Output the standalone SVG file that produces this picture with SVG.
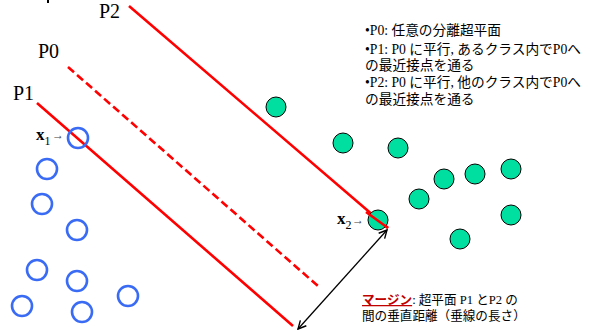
<svg xmlns="http://www.w3.org/2000/svg" width="590" height="331" viewBox="0 0 590 331">
<defs>
<style>
.hp{stroke:#ff0000;stroke-width:2.6;fill:none}
.blue{fill:none;stroke:#3a6bf5;stroke-width:2.6}
.green{fill:#00df9f;stroke:#000;stroke-width:1}
.lab{font-family:"Liberation Serif","Noto Sans CJK JP",serif;fill:#000}
.jp{font-family:"Liberation Serif","Noto Sans CJK JP",serif;font-size:13.7px;fill:#000}
.jb{font-family:"Liberation Serif","Noto Sans CJK JP",serif;font-size:12.6px;fill:#000}
.sm{font-family:"Liberation Serif",serif;font-size:12px;fill:#444}
</style>
<marker id="ah" viewBox="0 0 10 10" refX="9" refY="5" markerWidth="10" markerHeight="10" markerUnits="userSpaceOnUse" orient="auto-start-reverse">
<polyline points="1,1 9,5 1,9" fill="none" stroke="#000" stroke-width="1.4"/>
</marker>
</defs>
<rect width="590" height="331" fill="#fff"/>
<rect x="47" y="0" width="2" height="3" fill="#000"/>
<g id="connectors">
<line id="P2-line" class="hp" x1="129" y1="6" x2="388" y2="228"/>
<line id="P0-line" class="hp" x1="68" y1="67" x2="318" y2="286" stroke-dasharray="8,4"/>
<line id="P1-line" class="hp" x1="37" y1="103" x2="293" y2="326"/>
<line id="margin-arrow" x1="387" y1="230" x2="298" y2="329" stroke="#000" stroke-width="1.3" marker-start="url(#ah)" marker-end="url(#ah)"/>
</g>
<g id="labels-P">
<text class="lab" x="99" y="18" font-size="20">P2</text>
<text class="lab" x="38" y="58" font-size="20">P0</text>
<text class="lab" x="13" y="100" font-size="20">P1</text>
</g>
<g id="class-blue">
<circle class="blue" cx="78" cy="138" r="10"/>
<circle class="blue" cx="47" cy="169" r="10"/>
<circle class="blue" cx="42" cy="204" r="10"/>
<circle class="blue" cx="77" cy="230" r="10"/>
<circle class="blue" cx="37" cy="270" r="10"/>
<circle class="blue" cx="77" cy="281" r="10"/>
<circle class="blue" cx="22" cy="306" r="10"/>
<circle class="blue" cx="82" cy="312" r="10"/>
<circle class="blue" cx="128" cy="296" r="10"/>
</g>
<g id="class-green">
<circle class="green" cx="276" cy="107" r="10"/>
<circle class="green" cx="343" cy="143" r="10"/>
<circle class="green" cx="398" cy="148" r="10"/>
<circle class="green" cx="444" cy="179" r="10"/>
<circle class="green" cx="475" cy="174" r="10"/>
<circle class="green" cx="511" cy="169" r="10"/>
<circle class="green" cx="419" cy="199" r="10"/>
<circle class="green" cx="378" cy="220" r="10"/>
<circle class="green" cx="511" cy="215" r="10"/>
<circle class="green" cx="460" cy="239" r="10"/>
</g>
<line class="hp" x1="366" y1="212" x2="388" y2="228"/>
<g id="x1-label">
<text class="lab" x="36" y="140" font-size="17" font-weight="bold">x<tspan font-size="12" font-weight="normal" dy="5">1</tspan></text>
<text class="sm" x="52" y="139">→</text>
</g>
<g id="x2-label">
<text class="lab" x="337" y="224" font-size="17" font-weight="bold">x<tspan font-size="12" font-weight="normal" dy="5">2</tspan></text>
<text class="sm" x="352" y="224">→</text>
</g>
<g id="legend">
<text class="jp" x="365" y="35">•P0:  任意の分離超平面</text>
<text class="jp" x="365" y="54">•P1:  P0 に平行, あるクラス内でP0へ</text>
<text class="jp" x="365" y="70">の最近接点を通る</text>
<text class="jp" x="365" y="87">•P2:  P0 に平行, 他のクラス内でP0へ</text>
<text class="jp" x="365" y="104">の最近接点を通る</text>
</g>
<g id="margin-note">
<text class="jb" x="362" y="304"><tspan fill="#c00000" font-weight="bold" text-decoration="underline">マージン</tspan>: 超平面 P1 とP2 の</text>
<text class="jb" x="362" y="320">間の垂直距離（垂線の長さ）</text>
</g>
</svg>
